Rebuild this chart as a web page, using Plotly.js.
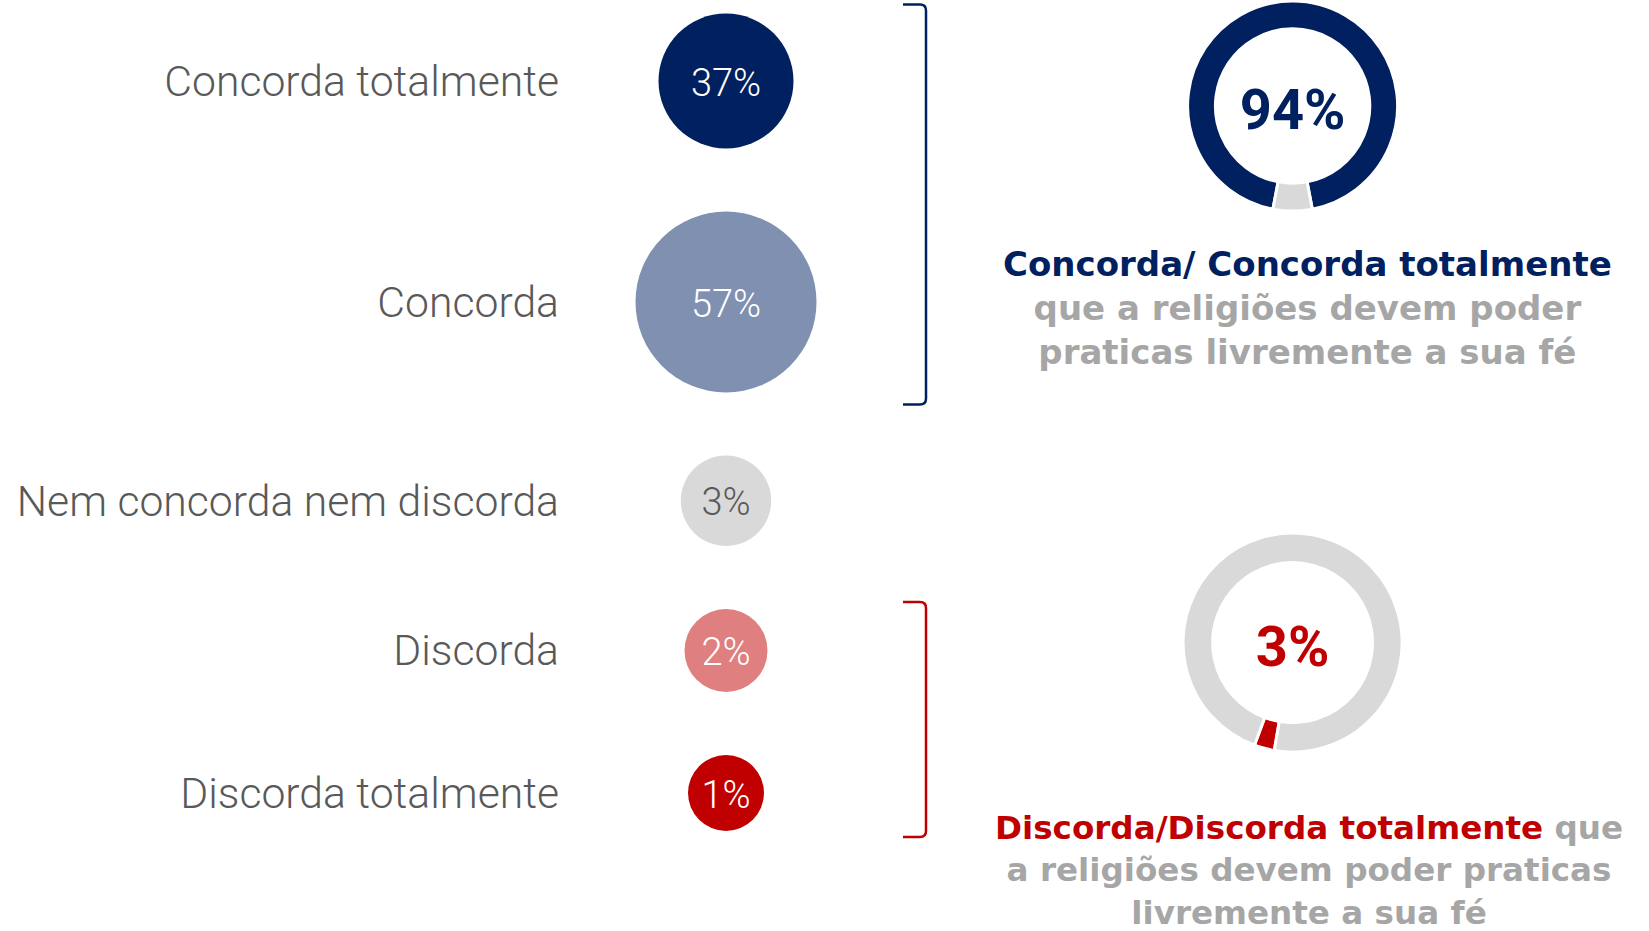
<!DOCTYPE html>
<html>
<head>
<meta charset="utf-8">
<script src="https://cdn.plot.ly/plotly-3.0.1.min.js"></script>
<style>html,body{margin:0;padding:0;background:#fff;}#chart{width:1649px;height:931px;}</style>
</head>
<body>
<div id="chart"></div>
<script>
// ---- data ----
const categories = ['Concorda totalmente', 'Concorda', 'Nem concorda nem discorda', 'Discorda', 'Discorda totalmente'];
const values = [37, 57, 3, 2, 1];
const agreeGroup = [0, 1];
const disagreeGroup = [3, 4];
const agreeHead = 'Concorda/ Concorda totalmente';
const agreeTail = ['que a religiões devem poder', 'praticas livremente a sua fé'];
const disagreeHead = 'Discorda/Discorda totalmente';
const disagreeTail = ['que', 'a religiões devem poder praticas', 'livremente a sua fé'];

// ---- styles ----
const W = 1649, H = 931;
const bubbleColors = ['#002060', '#7F90B1', '#D9D9D9', '#E07F7F', '#C00000'];
const bubbleTextColors = ['#FFFFFF', '#FFFFFF', '#595959', '#FFFFFF', '#FFFFFF'];
const bubbleDiam = [135, 181, 90.5, 83, 76];
const navy = '#002060', red = '#C00000', gray = '#D9D9D9', textGray = '#A6A6A6';
const bubbleX = 726;
const firstTop = 13.5, rowGap = 63;
const textNudge = 5; // visual centring of digits inside bubbles

// layout computation: stack bubbles with constant gap
const centers = [];
let cursor = firstTop;
bubbleDiam.forEach(d => { centers.push(cursor + d / 2); cursor += d + rowGap; });
const tops = centers.map((c, i) => c - bubbleDiam[i] / 2);
const bots = centers.map((c, i) => c + bubbleDiam[i] / 2);

const sum = idx => idx.reduce((s, i) => s + values[i], 0);
const agreeTotal = sum(agreeGroup);
const disagreeTotal = sum(disagreeGroup);

const bubbles = {
  type: 'scatter', mode: 'markers',
  x: values.map(() => bubbleX), y: centers,
  marker: {size: bubbleDiam, sizemode: 'diameter', color: bubbleColors, line: {width: 0}, opacity: 1},
  hoverinfo: 'skip', showlegend: false, cliponaxis: false
};
const bubbleLabels = {
  type: 'scatter', mode: 'text',
  x: values.map(() => bubbleX), y: centers.map(c => c + textNudge),
  text: values.map(v => v + '%'),
  textposition: 'middle center',
  textfont: {family: 'Roboto', size: 38, weight: 300, color: bubbleTextColors},
  hoverinfo: 'skip', showlegend: false, cliponaxis: false
};

function pd(cx, cy, r) {
  return {x: [(cx - r) / W, (cx + r) / W], y: [(H - cy - r) / H, (H - cy + r) / H]};
}

const donutTop = {
  type: 'pie', values: [agreeTotal, 100 - agreeTotal], sort: false, direction: 'clockwise',
  rotation: 180 - 360 * agreeTotal / 100 - 360 * (100 - agreeTotal) / 200,
  hole: 0.735, textinfo: 'none', hoverinfo: 'skip', showlegend: false,
  marker: {colors: [navy, gray], line: {color: '#FFFFFF', width: 3}},
  domain: pd(1292.6, 106, 105),
  title: {text: agreeTotal + '%', position: 'middle center', font: {family: 'Roboto', size: 56, weight: 'bold', color: navy}}
};
const donutBot = {
  type: 'pie', values: [disagreeTotal, 100 - disagreeTotal], sort: false, direction: 'clockwise',
  rotation: -170.4,
  hole: 0.73, textinfo: 'none', hoverinfo: 'skip', showlegend: false,
  marker: {colors: [red, gray], line: {color: '#FFFFFF', width: 3}},
  domain: pd(1292.6, 642.6, 109.5),
  title: {text: disagreeTotal + '%', position: 'middle center', font: {family: 'Roboto', size: 56, weight: 'bold', color: red}}
};

function bracket(y0, y1, color) {
  const xa = 903, xb = 926, r = 6;
  return {type: 'path', xref: 'x', yref: 'y',
    path: `M ${xa} ${y0} L ${xb - r} ${y0} Q ${xb} ${y0} ${xb} ${y0 + r} L ${xb} ${y1 - r} Q ${xb} ${y1} ${xb - r} ${y1} L ${xa} ${y1}`,
    line: {color: color, width: 2.5}};
}

const annotations = [
  {x: 1307, y: 308, xref: 'x', yref: 'y', xanchor: 'center', yanchor: 'middle', showarrow: false, align: 'center',
   text: `<span style="color:${navy}">${agreeHead}</span><br>${agreeTail.join('<br>')}`,
   font: {family: 'DejaVu Sans', size: 34, weight: 'bold', color: textGray}},
  {x: 1309, y: 870, xref: 'x', yref: 'y', xanchor: 'center', yanchor: 'middle', showarrow: false, align: 'center',
   text: `<span style="color:${red}">${disagreeHead}</span> ${disagreeTail[0]}<br>${disagreeTail.slice(1).join('<br>')}`,
   font: {family: 'DejaVu Sans', size: 32.6, weight: 'bold', color: textGray}}
];

const layout = {
  width: W, height: H, margin: {l: 0, r: 0, t: 0, b: 0},
  paper_bgcolor: '#FFFFFF', plot_bgcolor: 'rgba(0,0,0,0)',
  xaxis: {range: [0, W], domain: [0, 1], visible: false, fixedrange: true},
  yaxis: {range: [H, 0], domain: [0, 1], anchor: 'free', position: 559 / W,
    tickmode: 'array', tickvals: centers, ticktext: categories, ticks: '',
    showgrid: false, zeroline: false, showline: false, automargin: false, fixedrange: true,
    tickfont: {family: 'Roboto', size: 42.7, weight: 300, color: '#595959'}},
  shapes: [
    bracket(tops[agreeGroup[0]] - 9, bots[agreeGroup[agreeGroup.length - 1]] + 12, navy),
    bracket(tops[disagreeGroup[0]] - 7, bots[disagreeGroup[disagreeGroup.length - 1]] + 6, red)
  ],
  annotations: annotations,
  showlegend: false
};

Plotly.newPlot('chart', [bubbles, bubbleLabels, donutTop, donutBot], layout, {staticPlot: true, displayModeBar: false});
</script>
</body>
</html>
